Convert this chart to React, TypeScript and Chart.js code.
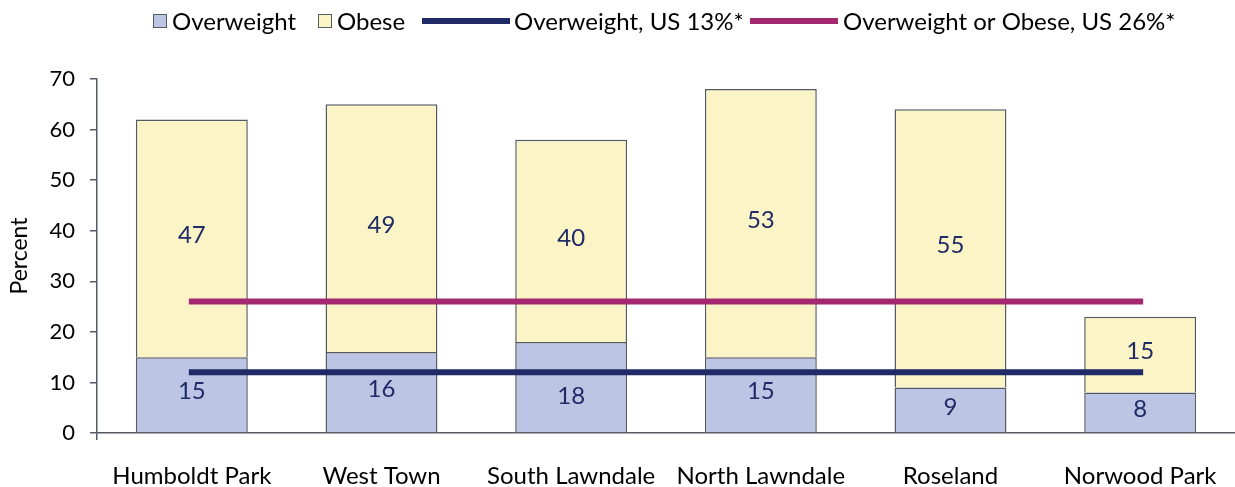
import React, { useEffect, useRef } from "react";
import { Chart, registerables } from "chart.js";

Chart.register(...registerables);

const categories = ["Humboldt Park", "West Town", "South Lawndale", "North Lawndale", "Roseland", "Norwood Park"];
const overweight = [15, 16, 18, 15, 9, 8];
const obese = [47, 49, 40, 53, 55, 15];
const usOverweight = [12, 12, 12, 12, 12, 12];
const usOverweightOrObese = [26, 26, 26, 26, 26, 26];
const yTicks = [0, 10, 20, 30, 40, 50, 60, 70];
const legendLabels = ["Overweight", "Obese", "Overweight, US 13%*", "Overweight or Obese, US 26%*"];

const FONT = "Lato, 'DejaVu Sans', sans-serif";
const NAVY = "#1f2a66";
const MAGENTA = "#a3286f";
const OW_FILL = "#bcc5e3";
const OB_FILL = "#faf4c6";
const EDGE = "#555a63";

// label pixel nudges (style only)
const owLabelNudge = [0, 0, 12, 0, 0, 0];

const legendPlugin = {
  id: "customLegend",
  afterDraw(chart: any) {
    const ctx = chart.ctx;
    ctx.save();
    ctx.font = `24px ${FONT}`;
    ctx.textBaseline = "middle";
    ctx.textAlign = "left";
    const y = 21;
    const items = [
      { kind: "box", fill: OW_FILL, x: 153, tx: 172 },
      { kind: "box", fill: OB_FILL, x: 318, tx: 337 },
      { kind: "line", fill: NAVY, x: 422, tx: 514 },
      { kind: "line", fill: MAGENTA, x: 750, tx: 843 },
    ];
    items.forEach((it, i) => {
      if (it.kind === "box") {
        ctx.fillStyle = it.fill;
        ctx.fillRect(it.x, y - 7, 14, 14);
        ctx.strokeStyle = EDGE;
        ctx.lineWidth = 1;
        ctx.strokeRect(it.x + 0.5, y - 6.5, 13, 13);
      } else {
        ctx.fillStyle = it.fill;
        ctx.fillRect(it.x, y - 3, 88, 6);
      }
      ctx.fillStyle = "#000";
      ctx.fillText(legendLabels[i], it.tx, y + 1);
    });
    ctx.restore();
  },
};

const labelPlugin = {
  id: "segLabels",
  afterDatasetsDraw(chart: any) {
    const ctx = chart.ctx;
    ctx.save();
    ctx.font = `24px ${FONT}`;
    ctx.fillStyle = NAVY;
    ctx.textAlign = "center";
    ctx.textBaseline = "middle";
    [0, 1].forEach((di) => {
      const meta = chart.getDatasetMeta(di);
      const vals = di === 0 ? overweight : obese;
      meta.data.forEach((bar: any, i: number) => {
        const cy = (bar.y + bar.base) / 2 - 3 + (di === 0 ? owLabelNudge[i] : 0);
        ctx.fillText(String(vals[i]), bar.x, cy);
      });
    });
    ctx.restore();
  },
};

export default function App() {
  const ref = useRef<HTMLCanvasElement>(null);
  useEffect(() => {
    if (!ref.current) return;
    const chart = new Chart(ref.current, {
      type: "bar",
      data: {
        labels: categories,
        datasets: [
          {
            type: "bar",
            label: legendLabels[0],
            data: overweight,
            backgroundColor: OW_FILL,
            borderColor: EDGE,
            borderWidth: 1.5,
            stack: "bars",
            order: 2,
            barPercentage: 0.59,
            categoryPercentage: 1,
          },
          {
            type: "bar",
            label: legendLabels[1],
            data: obese,
            backgroundColor: OB_FILL,
            borderColor: EDGE,
            borderWidth: 1.5,
            stack: "bars",
            order: 2,
            barPercentage: 0.59,
            categoryPercentage: 1,
          },
          {
            type: "line",
            label: legendLabels[2],
            data: usOverweight,
            borderColor: NAVY,
            backgroundColor: NAVY,
            borderWidth: 6,
            borderCapStyle: "square",
            pointRadius: 0,
            stack: "l1",
            order: 1,
          } as any,
          {
            type: "line",
            label: legendLabels[3],
            data: usOverweightOrObese,
            borderColor: MAGENTA,
            backgroundColor: MAGENTA,
            borderWidth: 6,
            borderCapStyle: "square",
            pointRadius: 0,
            stack: "l2",
            order: 1,
          } as any,
        ],
      },
      options: {
        animation: false,
        responsive: false,
        maintainAspectRatio: false,
        layout: { padding: { top: 79, left: 0, right: -2, bottom: 0 } },
        plugins: {
          legend: { display: false },
          tooltip: { enabled: false },
        },
        scales: {
          x: {
            stacked: true,
            offset: true,
            grid: {
              offset: true,
              drawOnChartArea: false,
              tickLength: 7,
              color: (c: any) => (c.index === 0 ? EDGE : "rgba(0,0,0,0)"),
              lineWidth: 1.5,
            },
            border: { color: EDGE, width: 1.5 },
            ticks: { color: "#000", font: { family: FONT, size: 24 }, padding: 22, maxRotation: 0, autoSkip: false },
            afterFit: (s: any) => {
              s.height = 54;
              s.paddingLeft = 0;
              s.paddingRight = 0;
            },
          },
          y: {
            stacked: true,
            min: 0,
            max: 70,
            afterBuildTicks: (s: any) => {
              s.ticks = yTicks.map((v) => ({ value: v }));
            },
            grid: { drawOnChartArea: false, tickLength: 7, color: EDGE, lineWidth: 1.5 },
            border: { color: EDGE, width: 1.5 },
            ticks: { color: "#000", font: { family: FONT, size: 22 }, padding: 15 },
            title: { display: true, text: "Percent", color: "#000", font: { family: FONT, size: 23 }, padding: { top: 6, bottom: 0 } },
            afterFit: (s: any) => {
              s.width = 97;
            },
          },
        },
      },
      plugins: [legendPlugin, labelPlugin],
    });
    return () => chart.destroy();
  }, []);
  return (
    <div style={{ position: "absolute", left: 0, top: 0, width: 1235, height: 487 }}>
      <canvas ref={ref} width={1235} height={487} style={{ width: 1235, height: 487 }} />
    </div>
  );
}
